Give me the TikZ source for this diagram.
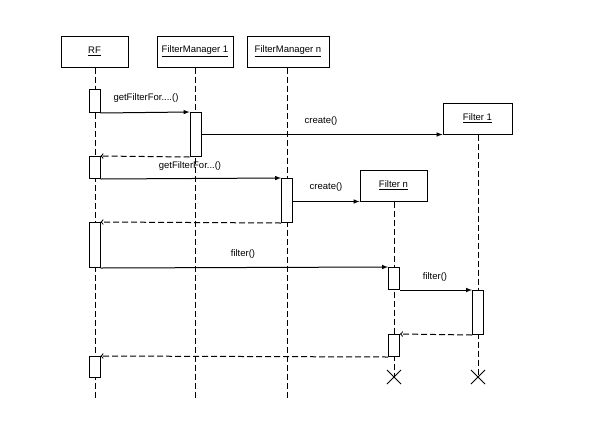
\documentclass[tikz,border=0pt]{standalone}
\usepackage{fontspec}
\setmainfont{Liberation Sans}
\usetikzlibrary{arrows,positioning,shapes.misc}

\begin{document}
\begin{tikzpicture}[x=1pt,y=-1pt,
	obj/.style={draw,line width=1pt,fill=white,minimum height=31pt,inner sep=0pt,font=\fontsize{9.5}{10}\selectfont},
	act/.style={draw,line width=1pt,fill=white,minimum width=11pt,anchor=north,inner sep=0pt},
	life/.style={line width=1pt,dash pattern=on 6pt off 3pt},
	call/.style={-latex,line width=1pt},
	ret/.style={->,line width=1pt,dash pattern=on 6pt off 3pt},
	lbl/.style={font=\fontsize{9.5}{10}\selectfont},
	kill/.style={cross out,draw,line width=1pt,minimum size=13pt,inner sep=0pt}]
	\useasboundingbox (0,0) rectangle (593,445);
	% objects
	\node[obj,minimum width=67pt] (rf) at (94.5,51.5) {\underline{RF}};
	\node[obj,minimum width=76pt] (fm1) at (195,51.5) {\underline{FilterManager 1}};
	\node[obj,minimum width=82pt] (fmn) at (288,51.5) {\underline{FilterManager n}};
	\coordinate (rfend) at (95,400);
	\coordinate (fm1end) at (195,400);
	\coordinate (fmnend) at (287,400);
	\node[kill] (f1x) at (478,377) {};
	\node[kill] (fnx) at (394,377) {};
	% lifelines
	\draw[life] (rf.south -| rfend) -- (rfend);
	\draw[life] (fm1.south) -- (fm1end);
	\draw[life] (fmn.south -| fmnend) -- (fmnend);
	\node[obj,minimum width=69pt] (f1) at (477.5,118.5) {\underline{Filter 1}};
	\node[obj,minimum width=67pt] (fn) at (393.5,185.5) {\underline{Filter n}};
	\draw[life] (f1.south -| f1x) -- (f1x.center);
	\draw[life] (fn.south -| fnx) -- (fnx.center);
	% activations
	\node[act,minimum height=23pt] (rfa1) at (94.5,89) {};
	\node[act,minimum height=44pt] (fm1a) at (195.5,112) {};
	\node[act,minimum height=22pt] (rfa2) at (94.5,156) {};
	\node[act,minimum height=44pt] (fmna) at (287,178) {};
	\node[act,minimum height=45pt] (rfa3) at (94.5,222) {};
	\node[act,minimum height=22pt] (fna1) at (394,267) {};
	\node[act,minimum height=44pt] (f1a) at (478,290) {};
	\node[act,minimum height=22pt] (fna2) at (394,334) {};
	\node[act,minimum height=21pt] (rfa4) at (94.5,356) {};
	% messages
	\draw[call] (rfa1.south east) -- (fm1a.north west);
	\node[lbl,anchor=west] at (110,98) {getFilterFor....()};
	\draw[call] (fm1a.east |- f1.south) -- (f1.south west);
	\node[lbl] at (321,121) {create()};
	\draw[ret] (fm1a.south west) -- (rfa2.north east);
	\node[lbl] at (190,166) {getFilterFor...()};
	\draw[call] (rfa2.south east) -- (fmna.north west);
	\draw[call] (fmna.east |- fn.south) -- (fn.south west);
	\node[lbl] at (326,187) {create()};
	\draw[ret] (fmna.south west) -- (rfa3.north east);
	\node[lbl] at (243,254) {filter()};
	\draw[call] (rfa3.south east) -- (fna1.north west);
	\node[lbl] at (435,277) {filter()};
	\draw[call] (fna1.south east) -- (f1a.north west);
	\draw[ret] (f1a.south west) -- (fna2.north east);
	\draw[ret] (fna2.south west) -- (rfa4.north east);
\end{tikzpicture}
\end{document}
